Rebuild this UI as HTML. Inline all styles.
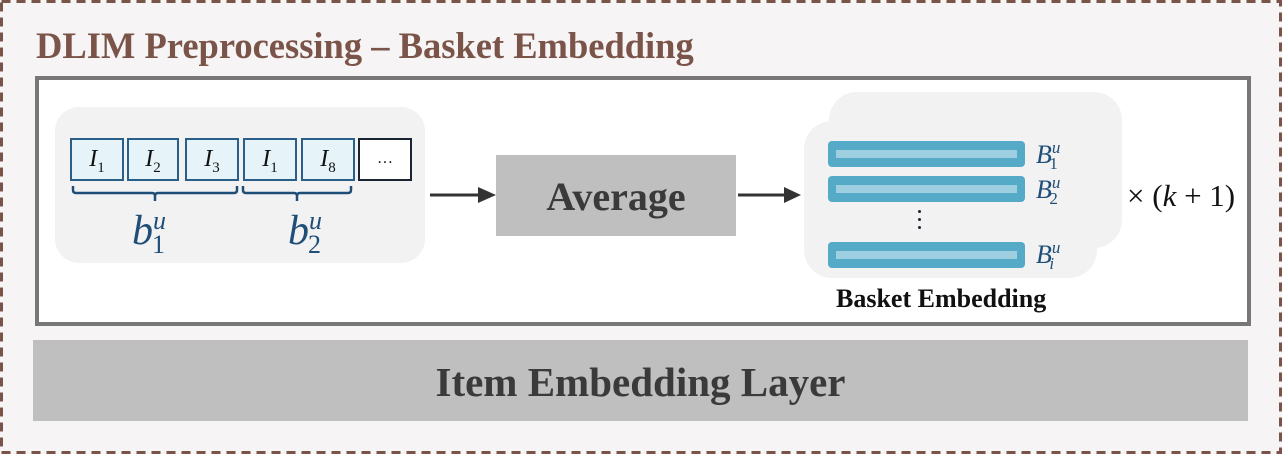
<!DOCTYPE html>
<html><head><meta charset="utf-8"><style>
body{margin:0;width:1282px;height:454px;background:#f6f4f4;overflow:hidden;position:relative;font-family:"Liberation Serif",serif}
.a{position:absolute}
.it{position:absolute;top:138px;height:39px;border:2.5px solid #2a5f8a;background:#e6f3f8;font-style:italic;font-size:24px;text-align:center;line-height:38px;color:#111}
.it sub{font-size:15px;font-style:normal}
.bar{position:absolute;left:828px;width:197px;height:26px;background:#55aac8;border-radius:4px}
.bar:after{content:"";position:absolute;left:8px;right:8px;top:9px;height:8px;background:#9ecfe0}
.B{position:absolute;left:1036px;font-style:italic;font-size:26px;color:#1f4e79;white-space:nowrap}
.B sup,.B sub{font-size:17px}
.dot{position:absolute;left:918px;width:3px;height:3px;border-radius:50%;background:#1a2433}
</style></head><body>
<svg class="a" style="left:0;top:0" width="1282" height="454"><rect x="1.5" y="1.5" width="1279" height="451" fill="none" stroke="#7b5449" stroke-width="3" stroke-dasharray="9,6"/></svg>
<div class="a" style="left:36px;top:24px;font-size:36.5px;font-weight:bold;color:#7b5449;white-space:nowrap">DLIM Preprocessing – Basket Embedding</div>
<div class="a" style="left:35px;top:76px;width:1208px;height:242px;border:4px solid #777;background:#fff"></div>
<div class="a" style="left:33px;top:340px;width:1215px;height:81px;background:#bfbfbf;color:#3a3a3a;font-size:41px;font-weight:bold;text-align:center;line-height:84px">Item Embedding Layer</div>
<div class="a" style="left:55px;top:107px;width:370px;height:156px;background:#f2f2f2;border-radius:24px"></div>
<div class="it" style="left:70px;width:50px">I<sub>1</sub></div>
<div class="it" style="left:127px;width:48px">I<sub>2</sub></div>
<div class="it" style="left:185px;width:50px">I<sub>3</sub></div>
<div class="it" style="left:243px;width:50px">I<sub>1</sub></div>
<div class="it" style="left:301px;width:50px">I<sub>8</sub></div>
<div class="it" style="left:358px;width:50px;border-color:#1a2433;background:#fff;font-style:normal;font-size:16px">…</div>
<svg class="a" style="left:0;top:0" width="1282" height="454">
<path d="M73 186 v4 q0 3 3 3 h76 q3 0 3 3 v5 M155 196 q0-3 3-3 h76 q3 0 3-3 v-4" fill="none" stroke="#1f4e79" stroke-width="2.5"/>
<path d="M243 186 v4 q0 3 3 3 h48 q3 0 3 3 v5 M297 196 q0-3 3-3 h48 q3 0 3-3 v-4" fill="none" stroke="#1f4e79" stroke-width="2.5"/>
<line x1="430" y1="195" x2="480" y2="195" stroke="#333" stroke-width="3"/><polygon points="478,187 496,195 478,203" fill="#333"/>
<line x1="738" y1="195" x2="786" y2="195" stroke="#333" stroke-width="3"/><polygon points="784,187 801,195 784,203" fill="#333"/>
</svg>
<div class="a" style="left:132px;top:206px;font-size:42px;font-style:italic;color:#1f4e79;white-space:nowrap">b<sup style="font-size:26px">u</sup><sub style="font-size:26px;font-style:normal;margin-left:-14px">1</sub></div>
<div class="a" style="left:288px;top:206px;font-size:42px;font-style:italic;color:#1f4e79;white-space:nowrap">b<sup style="font-size:26px">u</sup><sub style="font-size:26px;font-style:normal;margin-left:-14px">2</sub></div>
<div class="a" style="left:496px;top:155px;width:240px;height:81px;background:#bfbfbf;color:#3a3a3a;font-size:40px;font-weight:bold;text-align:center;line-height:84px">Average</div>
<div class="a" style="left:829px;top:92px;width:293px;height:156px;background:#f2f2f2;border-radius:28px"></div>
<div class="a" style="left:804px;top:121px;width:293px;height:157px;background:#f2f2f2;border-radius:28px"></div>
<div class="bar" style="top:141px"></div>
<div class="bar" style="top:176px"></div>
<div class="bar" style="top:242px"></div>
<div class="dot" style="top:210px"></div><div class="dot" style="top:218px"></div><div class="dot" style="top:226px"></div>
<div class="B" style="top:138px">B<sup style="vertical-align:10px">u</sup><sub style="margin-left:-11px;vertical-align:-6px;font-style:normal">1</sub></div>
<div class="B" style="top:173px">B<sup style="vertical-align:10px">u</sup><sub style="margin-left:-11px;vertical-align:-6px;font-style:normal">2</sub></div>
<div class="B" style="top:238px">B<sup style="vertical-align:10px">u</sup><sub style="margin-left:-11px;vertical-align:-6px">i</sub></div>
<div class="a" style="left:1127px;top:178px;font-size:31px;color:#111;white-space:nowrap">× (<i>k</i> + 1)</div>
<div class="a" style="left:836px;top:284px;font-size:26px;font-weight:bold;color:#111;white-space:nowrap">Basket Embedding</div>
</body></html>
